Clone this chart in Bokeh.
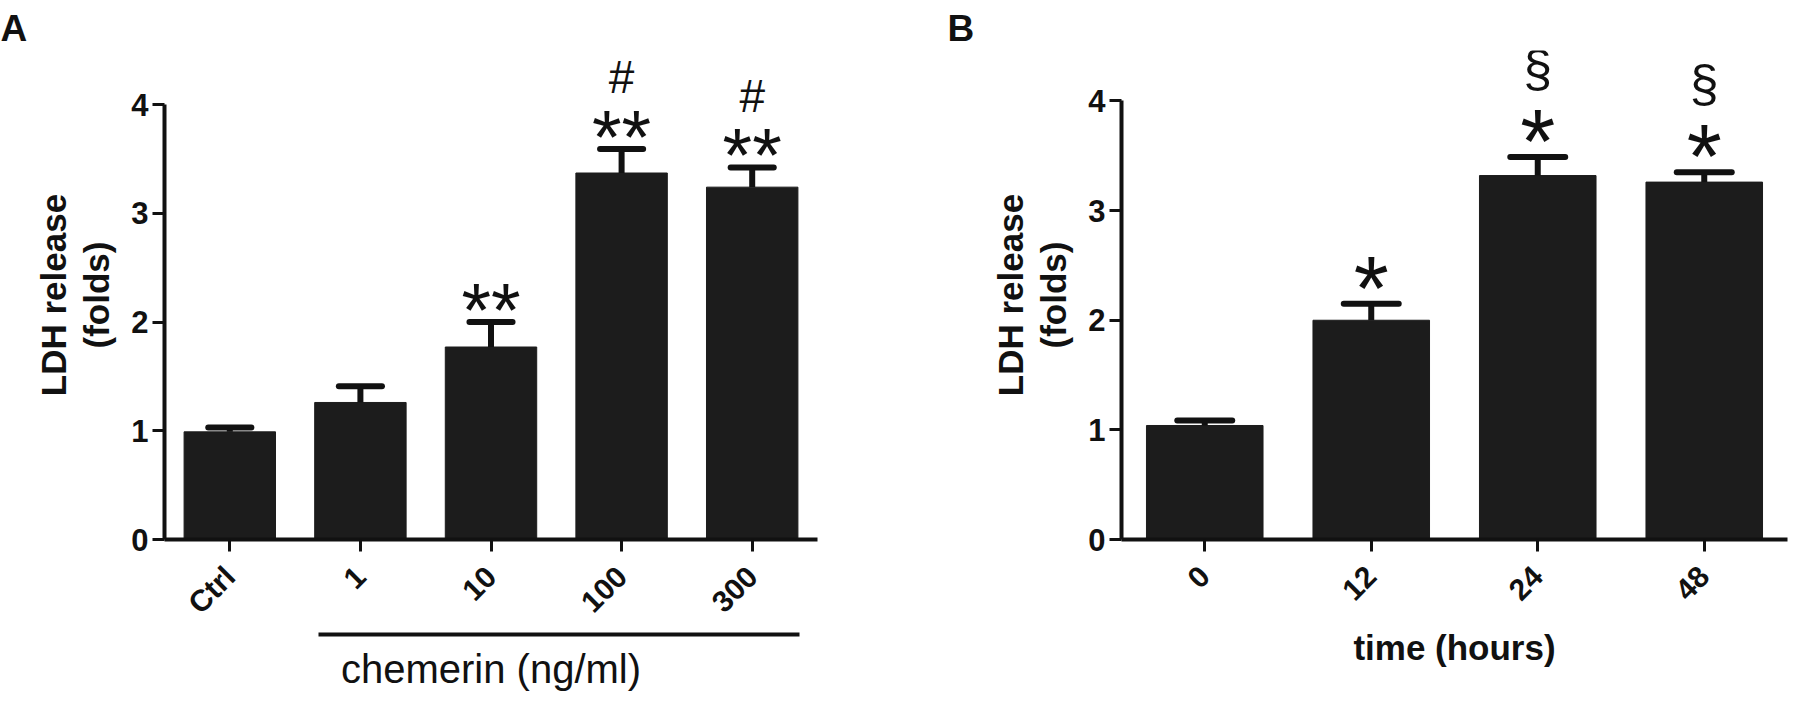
import math
from bokeh.plotting import figure
from bokeh.models import Range1d, FixedTicker, LinearAxis, ColumnDataSource
from bokeh.layouts import row
from bokeh.embed import file_html
from bokeh.resources import INLINE
from bokeh.core.properties import value

# ---------------- data ----------------
cats_a = ["Ctrl", "1", "10", "100", "300"]
mean_a = [0.99, 1.26, 1.77, 3.37, 3.24]
sem_a = [0.04, 0.15, 0.23, 0.22, 0.18]
stars_a = ["", "", "**", "**", "**"]
hash_a = ["", "", "", "#", "#"]

cats_b = ["0", "12", "24", "48"]
mean_b = [1.04, 2.00, 3.32, 3.26]
sem_b = [0.045, 0.15, 0.17, 0.09]
stars_b = ["", "*", "*", "*"]
sect_b = ["", "", "§", "§"]

y_ticks = [0, 1, 2, 3, 4]

FONT = "Liberation Sans"
BAR = "#1c1c1c"
INK = "#111111"


def style_axes(p, cats, xs):
    yax = p.yaxis[0]
    yax.ticker = FixedTicker(ticks=y_ticks)
    yax.bounds = (y_ticks[0], y_ticks[-1])
    yax.axis_line_width = 4
    yax.axis_line_color = INK
    yax.major_tick_line_width = 3
    yax.major_tick_line_color = INK
    yax.major_tick_out = 12
    yax.major_tick_in = 0
    yax.minor_tick_out = 0
    yax.minor_tick_in = 0
    yax.major_label_text_font = FONT
    yax.major_label_text_font_size = "31px"
    yax.major_label_text_font_style = "bold"
    yax.major_label_text_color = INK
    yax.major_label_standoff = 4
    yax.axis_label = "LDH release\n(folds)"
    yax.axis_label_text_font = FONT
    yax.axis_label_text_font_size = "35px"
    yax.axis_label_text_font_style = "bold"
    yax.axis_label_text_color = INK
    yax.axis_label_text_line_height = 1.1
    yax.axis_label_standoff = 12

    xax = p.xaxis[0]
    xax.ticker = FixedTicker(ticks=xs)
    xax.major_label_overrides = {x: c for x, c in zip(xs, cats)}
    xax.major_label_orientation = math.pi / 4
    xax.axis_line_width = 4
    xax.axis_line_color = INK
    xax.major_tick_line_width = 3
    xax.major_tick_line_color = INK
    xax.major_tick_out = 12
    xax.major_tick_in = 0
    xax.minor_tick_out = 0
    xax.minor_tick_in = 0
    xax.major_label_text_font = FONT
    xax.major_label_text_font_size = "30px"
    xax.major_label_text_font_style = "bold"
    xax.major_label_text_color = INK
    xax.major_label_standoff = 20
    return xax


def panel(letter, cats, means, sems, w, h, bl, br, bt, bb, ppu):
    n = len(cats)
    xs = list(range(n))
    frame_h = h - bt - bb
    p = figure(width=w, height=h,
               x_range=Range1d(-0.5, n - 0.5),
               y_range=Range1d(0, frame_h / ppu),
               output_backend="svg", toolbar_location=None,
               min_border_left=bl, min_border_right=br,
               min_border_top=bt, min_border_bottom=bb,
               title=letter)
    p.outline_line_color = None
    p.grid.visible = False
    p.background_fill_color = "white"
    p.border_fill_color = "white"
    p.title.text_font = FONT
    p.title.text_font_size = "37px"
    p.title.text_font_style = "bold"
    p.title.text_color = INK
    p.title.align = "left"
    p.title.offset = -bl
    p.title.standoff = 0
    p.title.vertical_align = "top"

    tops = [m + s for m, s in zip(means, sems)]
    src = ColumnDataSource(dict(
        x=xs, mean=means, top=tops,
        cl=[x - 0.165 for x in xs], cr=[x + 0.165 for x in xs],
    ))
    p.vbar(x="x", top="mean", bottom=0, width=0.7, fill_color=BAR,
           line_color=BAR, source=src)
    p.segment(x0="x", y0="mean", x1="x", y1="top", line_width=6,
              line_color=INK, source=src)
    p.segment(x0="cl", y0="top", x1="cr", y1="top", line_width=6,
              line_cap="round", line_color=INK, source=src)
    xax = style_axes(p, cats, xs)
    return p, src, xax, xs


# ---------------- panel A ----------------
pa, src_a, xax_a, xs_a = panel("A", cats_a, mean_a, sem_a, 932, 700,
                               164, 115, 50, 161, 108.75)
src_a.data["stars"] = stars_a
src_a.data["hash"] = hash_a
pa.text(x="x", y="top", text="stars", source=src_a, text_font=value(FONT),
        text_font_size="76px", text_align="center", text_baseline="alphabetic",
        y_offset=-13, text_color=INK)
pa.text(x="x", y="top", text="hash", source=src_a, text_font=value(FONT),
        text_font_size="46px", text_align="center", text_baseline="alphabetic",
        y_offset=-72, text_color=INK)

bracket = LinearAxis(bounds=(xs_a[1] - 0.32, xs_a[-1] + 0.36),
                     ticker=FixedTicker(ticks=[]),
                     axis_line_width=4, axis_line_color=INK,
                     major_tick_out=0, major_tick_in=0,
                     minor_tick_out=0, minor_tick_in=0,
                     major_label_standoff=0,
                     major_label_text_font_size="0px",
                     axis_label="chemerin (ng/ml)",
                     axis_label_text_font=FONT,
                     axis_label_text_font_size="40px",
                     axis_label_text_font_style="normal",
                     axis_label_text_color=INK,
                     axis_label_standoff=12)
pa.add_layout(bracket, "below")

# ---------------- panel B ----------------
pb, src_b, xax_b, xs_b = panel("B", cats_b, mean_b, sem_b, 858, 700,
                               189, 3, 50, 156, 110.75)
pb.title.offset = -174
src_b.data["stars"] = stars_b
src_b.data["sect"] = sect_b
pb.text(x="x", y="top", text="stars", source=src_b, text_font=value(FONT),
        text_font_size="90px", text_align="center", text_baseline="alphabetic",
        y_offset=-15, text_color=INK)
pb.text(x="x", y="top", text="sect", source=src_b, text_font=value(FONT),
        text_font_size="52px", text_align="center", text_baseline="alphabetic",
        y_offset=-88, text_color=INK)
xax_b.axis_label = "time (hours)"
xax_b.axis_label_text_font = FONT
xax_b.axis_label_text_font_size = "35px"
xax_b.axis_label_text_font_style = "bold"
xax_b.axis_label_text_color = INK
xax_b.axis_label_standoff = 16

layout = row(pa, pb, spacing=0)
open("out.html", "w").write(file_html(layout, INLINE))
